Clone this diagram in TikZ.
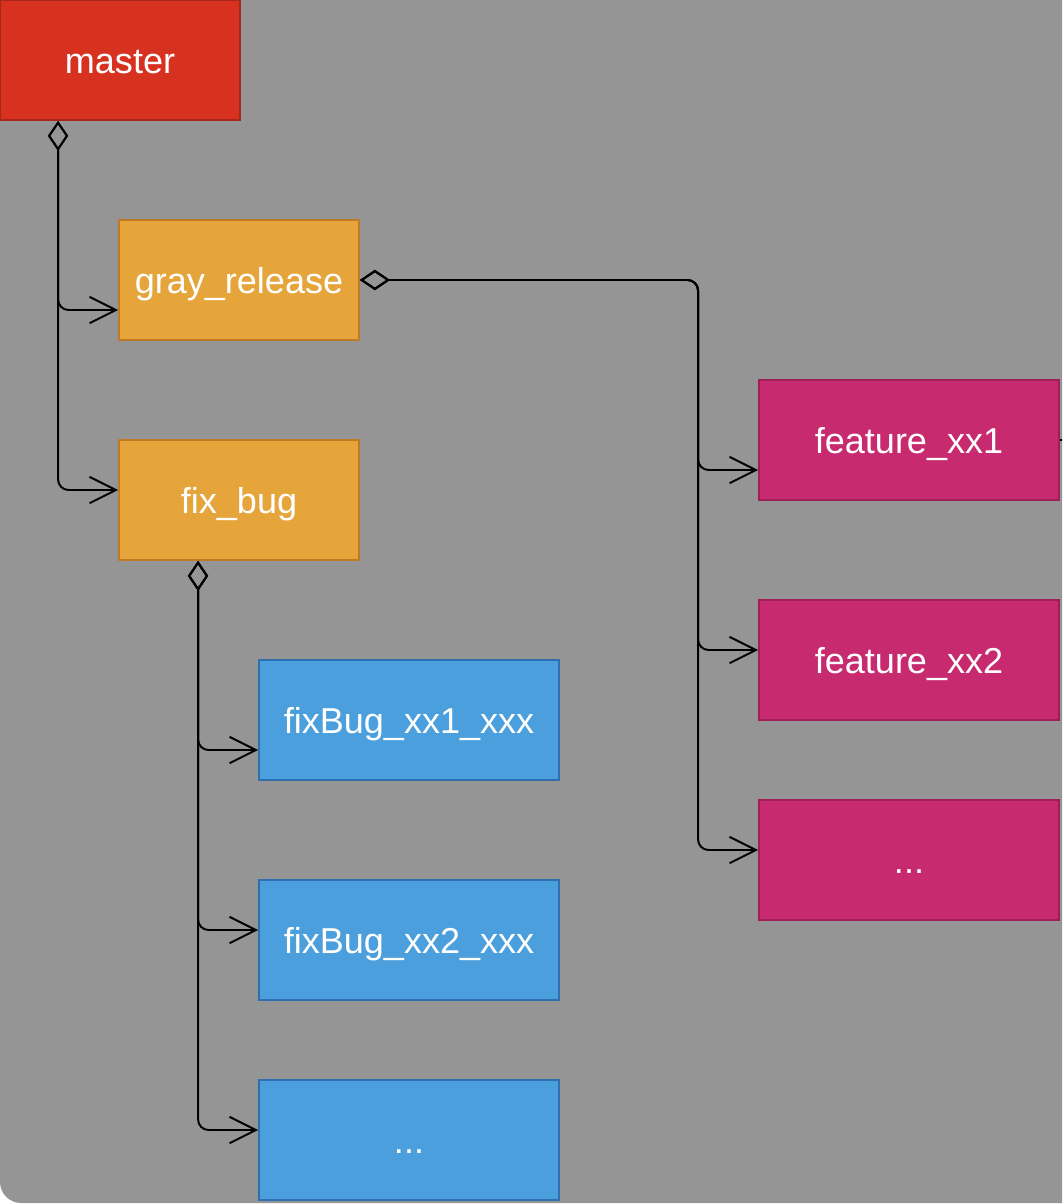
\documentclass[tikz,border=0pt]{standalone}
\usepackage{fontspec}
\setmainfont{Liberation Sans}
\usetikzlibrary{arrows.meta,calc}

\definecolor{bggray}{HTML}{959595}
\definecolor{masterred}{HTML}{D6321F}
\definecolor{masterline}{HTML}{A8251A}
\definecolor{relorange}{HTML}{E5A53A}
\definecolor{relline}{HTML}{C07A26}
\definecolor{featpink}{HTML}{C72A6E}
\definecolor{featline}{HTML}{A01F58}
\definecolor{fixblue}{HTML}{4A9FDC}
\definecolor{fixline}{HTML}{2E6FB0}

\begin{document}
\begin{tikzpicture}[x=0.02cm,y=-0.02cm,
    branch/.style={draw, line width=1.1pt, text=white, inner sep=0pt,
        text height=0.62cm, text depth=0.1cm,
        minimum height=2.4cm, font=\fontsize{20.5}{24}\selectfont},
    short/.style={branch, minimum width=4.8cm},
    wide/.style={branch, minimum width=6cm},
    conn/.style={line width=1.1pt, rounded corners=6pt,
        {Diamond[open,length=17pt,width=11.5pt]}-{Straight Barb[length=15pt,width=15pt]}}]
    \useasboundingbox (0,0) rectangle (1062,1204);
    \clip (0,0) rectangle (1062,1204);

    % Background
    \fill[bggray, rounded corners=12pt] (0,0) rectangle (1100,1203);

    % Branch boxes
    \node[short, fill=masterred, draw=masterline] (master) at (120,60) {master};
    \node[short, fill=relorange, draw=relline] (gray) at (239,280) {gray\_release};
    \node[short, fill=relorange, draw=relline] (fix) at (239,500) {fix\_bug};

    \node[wide, fill=fixblue, draw=fixline] (fb1) at (409,720) {fixBug\_xx1\_xxx};
    \node[wide, fill=fixblue, draw=fixline] (fb2) at (409,940) {fixBug\_xx2\_xxx};
    \node[wide, fill=fixblue, draw=fixline] (fb3) at (409,1140) {...};

    \node[wide, fill=featpink, draw=featline] (f1) at (909,440) {feature\_xx1};
    \node[wide, fill=featpink, draw=featline] (f2) at (909,660) {feature\_xx2};
    \node[wide, fill=featpink, draw=featline] (f3) at (909,860) {...};

    % master -> release branches
    \draw[conn] ($(master.south west)+(59,0)$) |- ($(gray.west)+(0,30)$);
    \draw[conn] ($(master.south west)+(59,0)$) |- ($(fix.west)+(0,-10)$);

    % fix_bug -> fixBug branches
    \draw[conn] ($(fix.south west)+(80,0)$) |- ($(fb1.west)+(0,30)$);
    \draw[conn] ($(fix.south west)+(80,0)$) |- ($(fb2.west)+(0,-10)$);
    \draw[conn] ($(fix.south west)+(80,0)$) |- ($(fb3.west)+(0,-10)$);

    % gray_release -> feature branches
    \draw[conn] (gray.east) -| ($(f1.west)+(-60,30)$) -- ($(f1.west)+(0,30)$);
    \draw[conn] (gray.east) -| ($(f2.west)+(-60,-10)$) -- ($(f2.west)+(0,-10)$);
    \draw[conn] (gray.east) -| ($(f3.west)+(-60,-10)$) -- ($(f3.west)+(0,-10)$);

    % line leaving feature_xx1 on the right
    \coordinate (offright) at (1100,440);
    \draw[line width=1.1pt] (f1.east) -- (offright);
\end{tikzpicture}
\end{document}
